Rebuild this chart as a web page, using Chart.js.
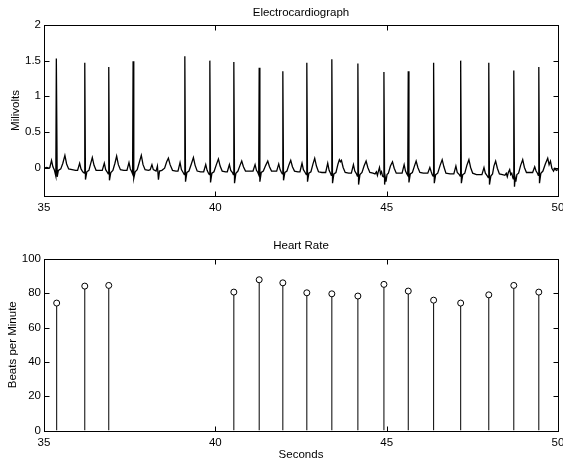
<!DOCTYPE html>
<html>
<head>
<meta charset="utf-8">
<title>Electrocardiograph</title>
<script src="https://cdn.jsdelivr.net/npm/chart.js@4.4.1/dist/chart.umd.min.js"></script>
<style>
  html, body { margin: 0; padding: 0; background: #fff; overflow: hidden; }
  #wrap { position: relative; width: 563px; height: 458px; }
  canvas { position: absolute; left: 0; }
  #ecgChart { top: 0; }
  #rateChart { top: 229px; }
</style>
</head>
<body>
<div id="wrap">
  <canvas id="ecgChart" width="563" height="229"></canvas>
  <canvas id="rateChart" width="563" height="229"></canvas>
</div>
<script>
// ECG trace, one line per beat: [seconds, millivolts]
var ecgSamples = [
  [35.00, -0.01], [35.08, 0.00], [35.14, -0.01],
  [35.17, 0.00], [35.22, 0.10], [35.26, 0.01], [35.30, -0.03], [35.345, -0.12], [35.36, 1.53], [35.385, -0.13], [35.42, -0.04], [35.49, -0.02], [35.55, 0.06], [35.61, 0.17], [35.66, 0.05], [35.72, -0.02], [35.82, -0.03], [35.92, -0.04],
  [35.98, -0.04], [36.04, 0.06], [36.08, -0.02], [36.13, -0.06], [36.175, -0.08], [36.19, 1.47], [36.21, -0.17], [36.25, -0.06], [36.31, -0.04], [36.36, 0.05], [36.41, 0.14], [36.46, 0.03], [36.52, -0.04], [36.62, -0.04],
  [36.70, -0.04], [36.76, 0.06], [36.80, -0.03], [36.84, -0.06], [36.875, -0.09], [36.89, 1.41], [36.91, -0.18], [36.95, -0.07], [37.01, -0.04], [37.07, 0.06], [37.12, 0.16], [37.17, 0.04], [37.23, -0.03], [37.33, -0.04],
  [37.42, -0.04], [37.48, 0.07], [37.52, -0.02], [37.56, -0.06], [37.585, -0.09], [37.60, 1.49], [37.62, -0.15], [37.66, -0.06], [37.72, -0.03], [37.78, 0.07], [37.84, 0.17], [37.89, 0.04], [37.95, -0.03], [38.05, -0.04],
  [38.10, -0.03], [38.15, 0.04], [38.19, -0.03], [38.27, -0.05], [38.31, 0.02], [38.34, -0.17], [38.37, -0.05], [38.44, -0.04], [38.52, -0.01], [38.58, 0.08], [38.63, 0.13], [38.68, 0.04], [38.75, -0.04], [38.85, -0.05],
  [38.91, -0.05], [38.97, 0.07], [39.01, -0.03], [39.06, -0.07], [39.095, -0.10], [39.11, 1.56], [39.13, -0.20], [39.17, -0.07], [39.23, -0.05], [39.30, 0.05], [39.36, 0.14], [39.41, 0.03], [39.47, -0.05], [39.57, -0.06],
  [39.66, -0.06], [39.72, 0.04], [39.76, -0.04], [39.80, -0.08], [39.825, -0.10], [39.84, 1.50], [39.86, -0.21], [39.90, -0.08], [39.96, -0.06], [40.03, 0.04], [40.09, 0.12], [40.14, 0.02], [40.20, -0.05], [40.30, -0.06],
  [40.35, -0.06], [40.41, 0.04], [40.45, -0.04], [40.50, -0.07], [40.525, -0.10], [40.54, 1.48], [40.56, -0.22], [40.60, -0.08], [40.66, -0.05], [40.72, 0.03], [40.77, 0.09], [40.82, 0.01], [40.88, -0.05], [40.98, -0.05],
  [41.10, -0.05], [41.16, 0.04], [41.20, -0.04], [41.24, -0.07], [41.265, -0.10], [41.28, 1.40], [41.30, -0.20], [41.34, -0.07], [41.40, -0.05], [41.47, 0.03], [41.53, 0.09], [41.58, 0.01], [41.64, -0.05], [41.74, -0.05],
  [41.79, -0.05], [41.85, 0.05], [41.89, -0.03], [41.93, -0.07], [41.955, -0.09], [41.97, 1.35], [41.99, -0.18], [42.03, -0.07], [42.09, -0.05], [42.15, 0.04], [42.20, 0.10], [42.25, 0.01], [42.31, -0.05], [42.41, -0.06],
  [42.47, -0.06], [42.53, 0.06], [42.57, -0.03], [42.62, -0.07], [42.655, -0.10], [42.67, 1.47], [42.69, -0.20], [42.73, -0.08], [42.79, -0.06], [42.85, 0.05], [42.90, 0.13], [42.95, 0.02], [43.01, -0.06], [43.11, -0.07],
  [43.22, -0.07], [43.28, 0.06], [43.32, -0.04], [43.36, -0.08], [43.385, -0.11], [43.40, 1.52], [43.42, -0.22], [43.46, -0.09], [43.52, -0.07], [43.58, 0.05], [43.62, 0.11], [43.65, 0.08], [43.68, 0.10], [43.73, 0.00], [43.79, -0.07], [43.89, -0.08],
  [43.97, -0.08], [44.03, 0.04], [44.07, -0.05], [44.12, -0.09], [44.145, -0.12], [44.16, 1.46], [44.18, -0.24], [44.22, -0.10], [44.28, -0.07], [44.34, 0.02], [44.40, 0.09], [44.45, 0.00], [44.51, -0.07], [44.60, -0.08],
  [44.66, -0.09], [44.70, -0.06], [44.73, -0.11], [44.76, -0.05], [44.79, 0.00], [44.82, -0.09], [44.85, -0.06], [44.88, -0.12], [44.905, -0.13], [44.92, 1.34], [44.94, -0.24], [44.96, -0.14], [44.98, -0.20], [45.01, -0.10], [45.05, -0.08], [45.11, 0.02], [45.17, 0.08], [45.22, -0.01], [45.28, -0.08], [45.38, -0.08],
  [45.45, -0.08], [45.51, 0.04], [45.55, -0.05], [45.59, -0.09], [45.615, -0.11], [45.63, 1.35], [45.65, -0.21], [45.69, -0.09], [45.75, -0.07], [45.81, 0.02], [45.86, 0.09], [45.91, 0.00], [45.97, -0.07], [46.07, -0.08],
  [46.20, -0.08], [46.26, 0.00], [46.30, -0.06], [46.33, -0.10], [46.355, -0.12], [46.37, 1.47], [46.39, -0.22], [46.43, -0.10], [46.49, -0.08], [46.56, 0.03], [46.62, 0.11], [46.67, 0.01], [46.73, -0.08], [46.85, -0.09],
  [46.96, -0.09], [47.02, 0.02], [47.06, -0.07], [47.12, -0.10], [47.145, -0.12], [47.16, 1.50], [47.18, -0.22], [47.22, -0.10], [47.28, -0.08], [47.34, 0.03], [47.40, 0.11], [47.45, 0.00], [47.51, -0.08], [47.62, -0.10],
  [47.78, -0.10], [47.84, 0.00], [47.88, -0.08], [47.94, -0.12], [47.965, -0.14], [47.98, 1.47], [48.00, -0.24], [48.04, -0.12], [48.09, -0.09], [48.13, 0.02], [48.18, 0.09], [48.23, -0.01], [48.29, -0.09], [48.38, -0.10],
  [48.45, -0.11], [48.49, -0.08], [48.52, -0.13], [48.55, -0.07], [48.59, -0.03], [48.62, -0.10], [48.65, -0.08], [48.68, -0.14], [48.695, -0.16], [48.71, 1.36], [48.73, -0.27], [48.75, -0.15], [48.77, -0.20], [48.80, -0.10], [48.85, -0.08], [48.91, 0.03], [48.97, 0.11], [49.02, 0.00], [49.08, -0.07], [49.18, -0.07],
  [49.26, -0.07], [49.32, 0.01], [49.36, -0.05], [49.40, -0.08], [49.425, -0.11], [49.44, 1.41], [49.46, -0.22], [49.50, -0.08], [49.56, -0.05], [49.63, 0.05], [49.70, 0.13], [49.74, 0.04], [49.78, 0.09], [49.82, -0.01], [49.87, -0.05], [49.91, -0.01], [49.95, -0.04], [50.00, -0.03]
]
var timeTicks = [35, 40, 45, 50]
var mvTicks = [0, 0.5, 1, 1.5, 2]

// detected beats and the rate at each one
var beatTimes = [35.37, 36.19, 36.89, 40.54, 41.28, 41.97, 42.67, 43.40, 44.16, 44.92, 45.63, 46.37, 47.16, 47.98, 48.71, 49.44]
var heartRate = [74.3, 84.2, 84.6, 80.7, 87.9, 86.1, 80.3, 79.7, 78.4, 85.2, 81.3, 76.0, 74.3, 79.1, 84.6, 80.7]
var bpmTicks = [0, 20, 40, 60, 80, 100]

Chart.defaults.font.family = '"Liberation Sans", Arial, Helvetica, sans-serif'
Chart.defaults.font.size = 11.5
Chart.defaults.color = '#000'

// matlab style box with the tick marks pointing inwards
var boxPlugin = {
  id: 'matlabBox',
  afterDraw: function (chart) {
    var ctx = chart.ctx
    var a = chart.chartArea
    var xs = chart.scales.x
    var ys = chart.scales.y
    var l = Math.round(a.left) + 0.5
    var r = Math.round(a.right) + 0.5
    var t = Math.round(a.top) + 0.5
    var b = Math.round(a.bottom) + 0.5
    var len = 5
    ctx.save()
    ctx.strokeStyle = '#000'
    ctx.lineWidth = 1
    ctx.beginPath()
    xs.ticks.forEach(function (tk) {
      var px = Math.round(xs.getPixelForValue(tk.value)) + 0.5
      ctx.moveTo(px, b); ctx.lineTo(px, b - len)
      ctx.moveTo(px, t); ctx.lineTo(px, t + len)
    })
    ys.ticks.forEach(function (tk) {
      var py = Math.round(ys.getPixelForValue(tk.value)) + 0.5
      ctx.moveTo(l, py); ctx.lineTo(l + len, py)
      ctx.moveTo(r, py); ctx.lineTo(r - len, py)
    })
    ctx.stroke()
    ctx.strokeRect(l, t, r - l, b - t)
    ctx.restore()
  }
}

function fixedTicks (list) {
  return function (scale) {
    scale.ticks = list.map(function (v) { return { value: v } })
  }
}

//-------------
//- ECG TRACE -
//-------------
var ecgChart = new Chart(document.getElementById('ecgChart').getContext('2d'), {
  type: 'line',
  data: {
    datasets: [{
      data: ecgSamples.map(function (p) { return { x: p[0], y: p[1] } }),
      borderColor: '#000',
      borderWidth: 1.3,
      pointRadius: 0,
      tension: 0,
      fill: false
    }]
  },
  options: {
    responsive: false,
    devicePixelRatio: 1,
    animation: false,
    events: [],
    layout: { padding: { left: 0, right: 5, top: 0, bottom: 0 } },
    plugins: {
      legend: { display: false },
      tooltip: { enabled: false },
      title: {
        display: true,
        text: 'Electrocardiograph',
        fullSize: false,
        font: { size: 11.5, weight: 'normal' },
        padding: { top: 6, bottom: 5.2 }
      }
    },
    scales: {
      x: {
        type: 'linear',
        min: 35,
        max: 50,
        afterBuildTicks: fixedTicks(timeTicks),
        afterFit: function (s) { s.height = 33; s.paddingLeft = 0; s.paddingRight = 0 },
        grid: { display: false, drawTicks: false },
        border: { display: false },
        ticks: { padding: 5, maxRotation: 0, autoSkip: false }
      },
      y: {
        type: 'linear',
        min: -0.4,
        max: 2,
        afterBuildTicks: fixedTicks(mvTicks),
        afterFit: function (s) { s.width = 44; s.paddingTop = 0; s.paddingBottom = 0 },
        grid: { display: false, drawTicks: false },
        border: { display: false },
        ticks: { padding: 3, callback: function (v) { return String(v) } },
        title: { display: true, text: 'Milivolts', padding: { top: 8.6, bottom: 0 } }
      }
    }
  },
  plugins: [boxPlugin]
})

//-------------
//- HEART RATE STEMS -
//-------------
var rateChart = new Chart(document.getElementById('rateChart').getContext('2d'), {
  type: 'scatter',
  data: {
    datasets: [{
      type: 'scatter',
      order: 0,
      data: beatTimes.map(function (t, i) { return { x: t, y: heartRate[i] } }),
      pointRadius: 3,
      pointBorderWidth: 1,
      pointBorderColor: '#000',
      pointBackgroundColor: '#fff'
    }, {
      type: 'bar',
      order: 1,
      data: beatTimes.map(function (t, i) { return { x: t, y: heartRate[i] } }),
      backgroundColor: '#000',
      barThickness: 1,
      borderWidth: 0,
      inflateAmount: 0
    }]
  },
  options: {
    responsive: false,
    devicePixelRatio: 1,
    animation: false,
    events: [],
    layout: { padding: { left: 0, right: 5, top: 0, bottom: 0 } },
    plugins: {
      legend: { display: false },
      tooltip: { enabled: false },
      title: {
        display: true,
        text: 'Heart Rate',
        fullSize: false,
        font: { size: 11.5, weight: 'normal' },
        padding: { top: 10.1, bottom: 6.1 }
      }
    },
    scales: {
      x: {
        type: 'linear',
        offset: false,
        min: 35,
        max: 50,
        afterBuildTicks: fixedTicks(timeTicks),
        afterFit: function (s) { s.height = 27.5; s.paddingLeft = 0; s.paddingRight = 0 },
        grid: { display: false, drawTicks: false, offset: false },
        border: { display: false },
        ticks: { padding: 5.5, maxRotation: 0, autoSkip: false },
        title: { display: true, text: 'Seconds', padding: { top: 0, bottom: -3.4 } }
      },
      y: {
        type: 'linear',
        min: 0,
        max: 100,
        afterBuildTicks: fixedTicks(bpmTicks),
        afterFit: function (s) { s.width = 44; s.paddingTop = 0; s.paddingBottom = 0 },
        grid: { display: false, drawTicks: false },
        border: { display: false },
        ticks: { padding: 3 },
        title: { display: true, text: 'Beats per Minute', padding: { top: 6, bottom: 0 } }
      }
    }
  },
  plugins: [boxPlugin]
})
</script>
</body>
</html>
